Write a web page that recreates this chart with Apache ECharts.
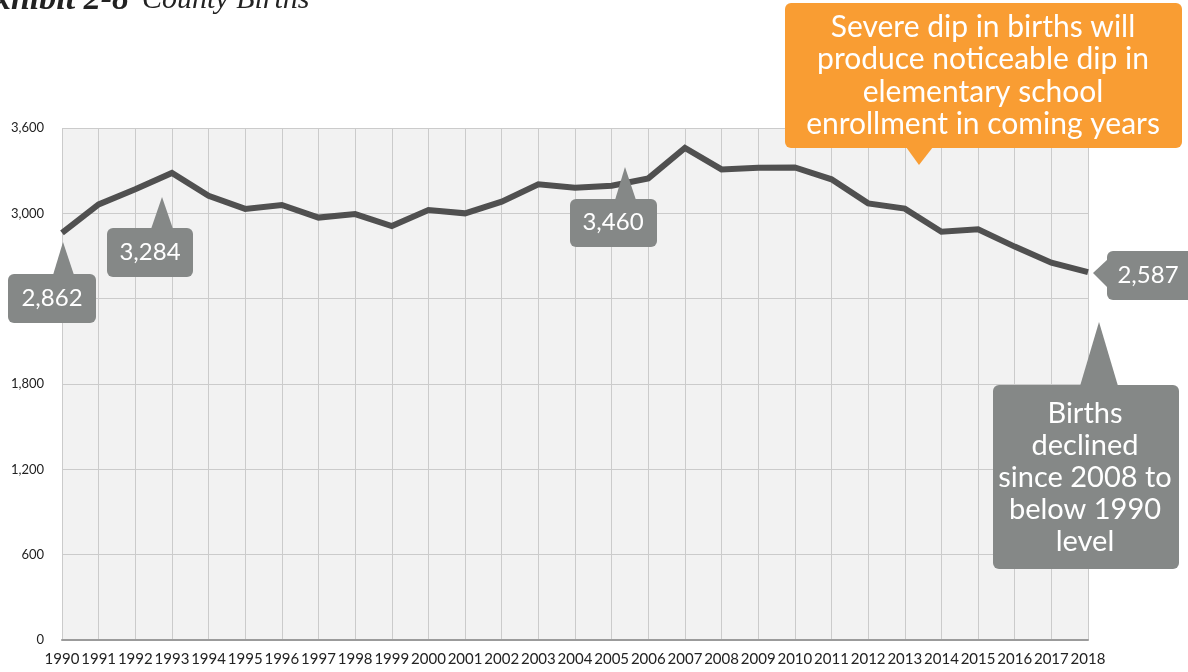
<!DOCTYPE html>
<html>
<head>
<meta charset="utf-8">
<title>County Births</title>
<script src="https://cdn.jsdelivr.net/npm/echarts@6/dist/echarts.min.js"></script>
</head>
<body style="margin:0;background:#fff;">
<div id="main" style="width:1188px;height:672px;"></div>
<script>
var years = ['1990','1991','1992','1993','1994','1995','1996','1997','1998','1999',
  '2000','2001','2002','2003','2004','2005','2006','2007','2008','2009',
  '2010','2011','2012','2013','2014','2015','2016','2017','2018'];
var births = [2862,3063,3169,3284,3124,3031,3059,2970,2995,2911,
  3023,3000,3082,3204,3180,3194,3246,3460,3309,3321,
  3323,3239,3070,3033,2871,2888,2766,2653,2587];
var yMin = 0, yMax = 3600, yStep = 600;
var noteOrange = ['Severe dip in births will', 'produce noticeable dip in', 'elementary school', 'enrollment in coming years'];
var noteGray = ['Births', 'declined', 'since 2008 to', 'below 1990', 'level'];

var GRAY = '#858887';
var ORANGE = '#f99d33';
var FONT = 'Lato, "Open Sans", sans-serif';

function fmt(v) { return v.toLocaleString('en-US'); }

// callout box: rect + pointer triangle + white text
function callout(o) {
  return [
    { type: 'rect', z: 100, shape: { x: o.x, y: o.y, width: o.w, height: o.h, r: 6 }, style: { fill: o.fill } },
    { type: 'polygon', z: 100, shape: { points: o.tri }, style: { fill: o.fill } },
    { type: 'text', z: 101, x: o.tx, y: o.ty,
      style: { text: o.text, fill: '#fff', fontSize: o.size, fontFamily: FONT,
        lineHeight: o.lh || o.size,
        align: 'center', verticalAlign: 'middle', textAlign: 'center', textVerticalAlign: 'middle' } }
  ];
}

var graphics = [].concat(
  callout({ x: 8, y: 274, w: 88, h: 49, tri: [[53,275],[63,242],[74,275]], fill: GRAY,
    text: fmt(births[0]), tx: 52, ty: 298, size: 24 }),
  callout({ x: 107, y: 228, w: 86, h: 49, tri: [[151,229],[162,197],[173,229]], fill: GRAY,
    text: fmt(births[3]), tx: 150, ty: 252, size: 24 }),
  callout({ x: 570, y: 199, w: 87, h: 48, tri: [[615,200],[625,167],[636,200]], fill: GRAY,
    text: fmt(births[17]), tx: 613, ty: 222, size: 24 }),
  callout({ x: 1107, y: 251, w: 90, h: 49, tri: [[1108,259],[1093,273],[1108,288]], fill: GRAY,
    text: fmt(births[28]), tx: 1148, ty: 275, size: 24 }),
  callout({ x: 785, y: 3, w: 397, h: 145, tri: [[906,147],[919,165],[933,147]], fill: ORANGE,
    text: noteOrange.join('\n'), tx: 983, ty: 76, size: 30, lh: 32.5 }),
  callout({ x: 993, y: 385, w: 186, h: 184, tri: [[1080,386],[1099,322],[1118,386]], fill: GRAY,
    text: noteGray.join('\n'), tx: 1085, ty: 478, size: 29, lh: 32 }),
  [
    { type: 'text', z: 101, x: 129, y: 0,
      style: { text: 'Exhibit 2-8', fill: '#222', font: 'italic bold 34px "Liberation Serif", serif',
        align: 'right', verticalAlign: 'middle', textAlign: 'right', textVerticalAlign: 'middle' } },
    { type: 'text', z: 101, x: 142, y: 0,
      style: { text: 'County Births', fill: '#222', font: 'italic 30px "Liberation Serif", serif',
        align: 'left', verticalAlign: 'middle', textAlign: 'left', textVerticalAlign: 'middle' } }
  ]
);

var myChart = echarts.init(document.getElementById('main'));
var option = {
  backgroundColor: '#ffffff',
  animation: false,
  grid: { left: 62, right: 100, top: 128, bottom: 32, show: true, backgroundColor: '#f2f2f2', borderWidth: 0 },
  xAxis: {
    type: 'category',
    data: years,
    boundaryGap: false,
    axisTick: { show: false },
    axisLine: { lineStyle: { color: '#9b9b9b', width: 2 } },
    axisLabel: { interval: 0, color: '#222', fontSize: 15, fontFamily: FONT, margin: 12 },
    splitLine: { show: true, lineStyle: { color: '#cbcbcb', width: 1 } }
  },
  yAxis: {
    type: 'value',
    min: yMin, max: yMax, interval: yStep,
    axisLine: { show: false },
    axisTick: { show: false },
    axisLabel: { color: '#222', fontSize: 13, fontFamily: FONT, margin: 18, formatter: fmt },
    splitLine: { lineStyle: { color: '#cbcbcb', width: 1 } }
  },
  series: [{
    type: 'line',
    data: births,
    symbol: 'none',
    z: 5,
    lineStyle: { color: '#505050', width: 6, join: 'miter' }
  }],
  graphic: graphics
};
myChart.setOption(option);
</script>
</body>
</html>
